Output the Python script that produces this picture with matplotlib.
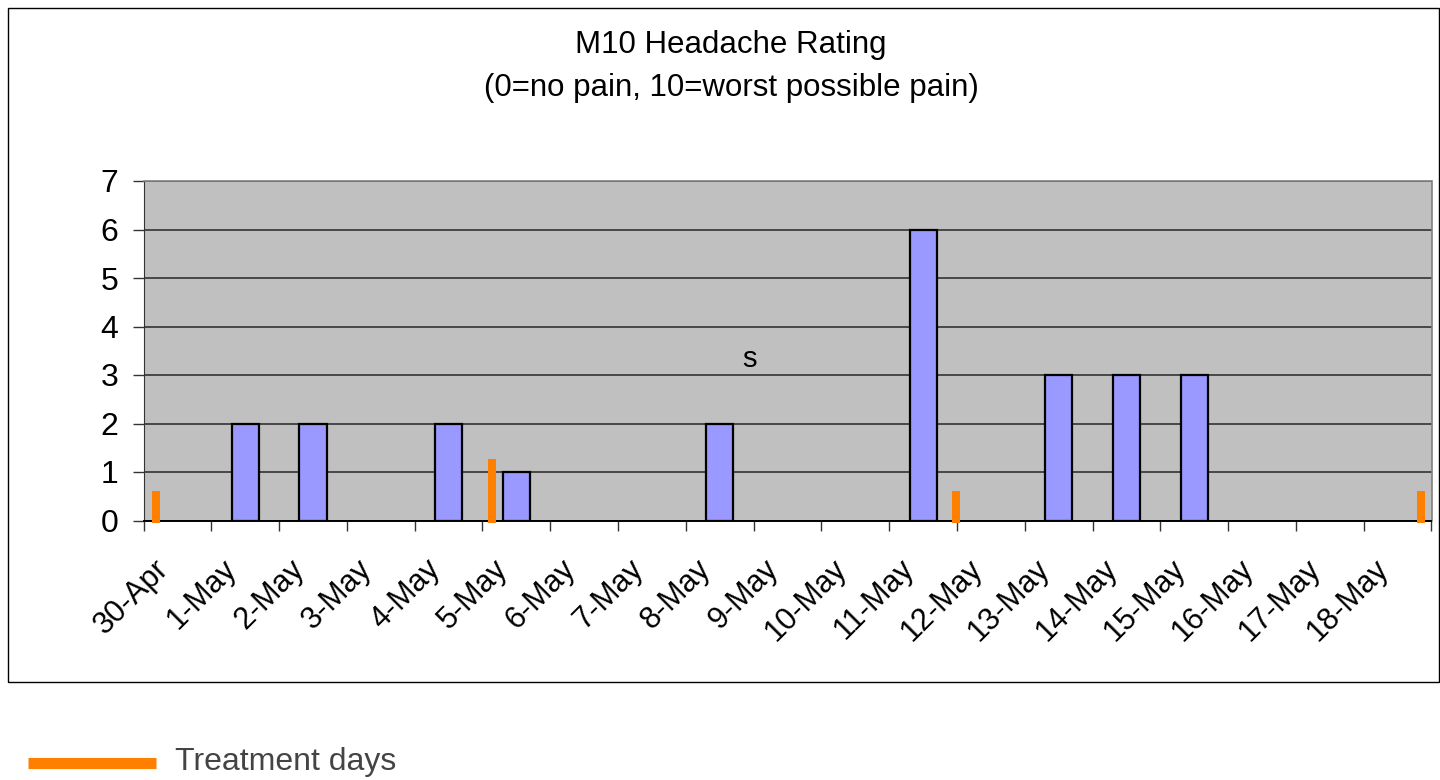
import matplotlib
matplotlib.use("Agg")
import matplotlib.pyplot as plt
from matplotlib.patches import Rectangle
from matplotlib.lines import Line2D
import numpy as np

plt.rcParams['font.family'] = ['Liberation Sans', 'DejaVu Sans']

# ---- data ----
dates = ["30-Apr", "1-May", "2-May", "3-May", "4-May", "5-May", "6-May", "7-May",
         "8-May", "9-May", "10-May", "11-May", "12-May", "13-May", "14-May",
         "15-May", "16-May", "17-May", "18-May"]
ratings = [0, 2, 2, 0, 2, 1, 0, 0, 2, 0, 0, 6, 0, 3, 3, 3, 0, 0, 0]
treatment_x = [-0.32, 4.64, 11.49, 18.34]
treatment_h = [0.6, 1.27, 0.6, 0.6]
title_lines = ["M10 Headache Rating", "(0=no pain, 10=worst possible pain)"]
legend_label = "Treatment days"
note_text = "s"
note_pos = (8.44, 3.04)

W, H = 1440, 780
fig = plt.figure(figsize=(W / 100, H / 100), dpi=100)

# outer frame
fig.patches.append(Rectangle((8 / W, 1 - 682 / H), (1439 - 8) / W, (682 - 8) / H,
                             transform=fig.transFigure, fill=False,
                             edgecolor='black', linewidth=1.0))

left, right, top, bottom = 143.5, 1431.5, 181, 520.5
ax = fig.add_axes([left / W, 1 - bottom / H, (right - left) / W, (bottom - top) / H])
ax.set_facecolor('#C0C0C0')

n = len(dates)
x = np.arange(n)
edges = ['black' if v > 0 else 'none' for v in ratings]
ax.bar(x, ratings, width=0.4, color='#9999FF', edgecolor=edges, linewidth=1.6, zorder=3)
ax.bar(treatment_x, [h + 0.05 for h in treatment_h], bottom=-0.05, width=0.118,
       color='#FF8000', linewidth=0, zorder=4, clip_on=False)

ax.set_xlim(-0.5, n - 0.5)
ax.set_ylim(0, 7)
ax.set_yticks(range(0, 8))
ax.yaxis.grid(True, color='#333333', linewidth=1.2, zorder=1)
ax.set_axisbelow(True)

ax.set_xticks(np.arange(n + 1) - 0.5)
ax.set_xticklabels([])
# label anchors sit slightly left of each category centre (as in the source chart)
cat_w_px = (right - left) / n
ax.set_xticks(x - 24 / cat_w_px, minor=True)
ax.set_xticklabels(dates, minor=True, rotation=45, ha='right', va='top',
                   rotation_mode='anchor', fontsize=22)
ax.tick_params(axis='x', which='minor', length=0, pad=24)
ax.tick_params(axis='x', which='major', length=7, width=1, color='#333333')
ax.tick_params(axis='y', length=8, width=1, color='#333333', labelsize=23, pad=10)

for s in ['top', 'right']:
    ax.spines[s].set_color('#808080')
    ax.spines[s].set_linewidth(1.2)
ax.spines['left'].set_color('#333333')
ax.spines['bottom'].set_color('black')
ax.spines['bottom'].set_linewidth(1.4)

ax.text(note_pos[0], note_pos[1], note_text, ha='center', va='bottom', fontsize=21)

fig.text(731 / W, 1 - 45 / H, title_lines[0], ha='center', va='center', fontsize=22.5)
fig.text(731 / W, 1 - 88 / H, title_lines[1], ha='center', va='center', fontsize=22.5)

# legend
fig.lines.append(Line2D([28 / W, 156 / W], [1 - 763 / H, 1 - 763 / H],
                        transform=fig.transFigure, color='#FF8000', linewidth=8,
                        solid_capstyle='butt'))
fig.text(175 / W, 1 - 762 / H, legend_label, ha='left', va='center', fontsize=23,
         color='#444444')

fig.savefig("out.png", dpi=100, facecolor='white')
